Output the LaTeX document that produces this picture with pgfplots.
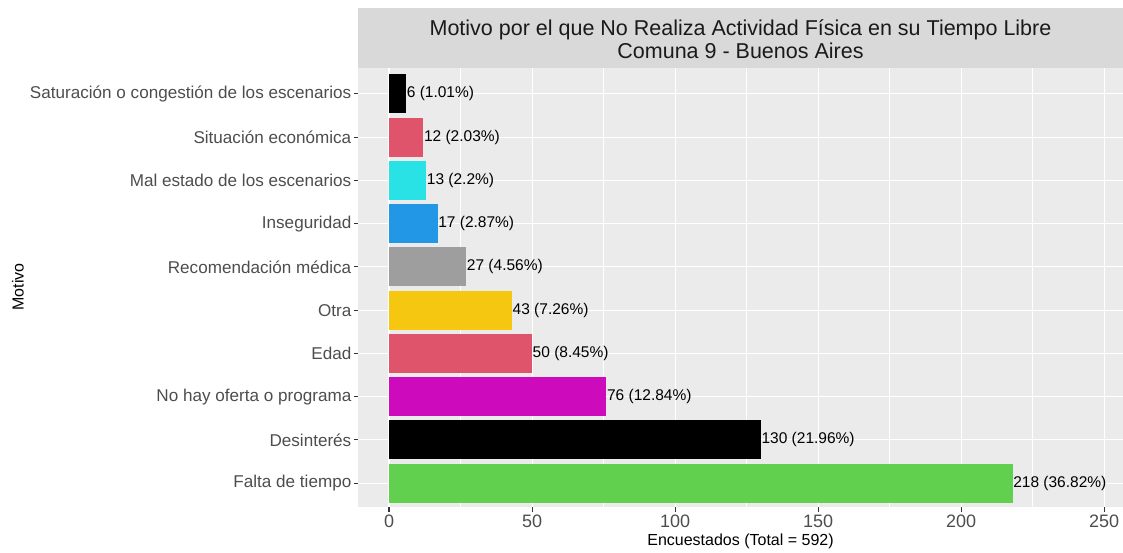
\documentclass[border=0pt]{standalone}
\usepackage{pgfplots}
\pgfplotsset{compat=1.18}
\usepackage{fontspec}
\setmainfont{Liberation Sans}
\definecolor{panelbg}{RGB}{235,235,235}
\definecolor{stripbg}{RGB}{217,217,217}
\definecolor{ticktxt}{RGB}{77,77,77}
\definecolor{tickcol}{RGB}{51,51,51}
\definecolor{titletxt}{RGB}{26,26,26}
\definecolor{cred}{HTML}{DF536B}
\definecolor{ccyan}{HTML}{28E2E5}
\definecolor{cblue}{HTML}{2297E6}
\definecolor{cgrey}{HTML}{9E9E9E}
\definecolor{cyellow}{HTML}{F5C710}
\definecolor{cmagenta}{HTML}{CD0BBC}
\definecolor{cgreen}{HTML}{61D04F}
\begin{document}
\begin{tikzpicture}[x=1pt,y=1pt]
\useasboundingbox (0,0) rectangle (1123,552);
\fill[stripbg] (358,484) rectangle (1123,544);
\node[align=center, text=titletxt, font=\fontsize{21.5}{23}\selectfont, inner sep=0pt] at (740.5,513) {Motivo por el que No Realiza Actividad Física en su Tiempo Libre\\Comuna 9 - Buenos Aires};
\begin{axis}[
  at={(358pt,45pt)}, anchor=south west,
  scale only axis, width=765pt, height=439pt,
  xmin=-10.84, xmax=256.6,
  ymin=0.45, ymax=10.6,
  xbar, bar width=0.9, bar shift=0pt,
  axis background/.style={fill=panelbg},
  axis line style={draw=none},
  xtick={0,50,100,150,200,250},
  minor xtick={25,75,125,175,225},
  ytick={1,...,10},
  yticklabels={Falta de tiempo,Desinterés,No hay oferta o programa,Edad,Otra,Recomendación médica,Inseguridad,Mal estado de los escenarios,Situación económica,Saturación o congestión de los escenarios},
  grid=both,
  major grid style={white, line width=1.07pt},
  minor grid style={white, line width=0.53pt},
  tick align=outside, tick pos=left,
  major tick length=4.5pt, minor tick length=0pt,
  tick style={tickcol, line width=1.07pt},
  /pgf/number format/assume math mode=true,
  yticklabel style={text=ticktxt, font=\fontsize{17.1}{20}\selectfont, inner xsep=2pt},
  xticklabel style={text=ticktxt, font=\fontsize{18}{20}\selectfont, inner ysep=3pt},
  point meta=explicit symbolic,
  nodes near coords,
  every node near coord/.append style={anchor=west, inner xsep=0.5pt, text=black, font=\fontsize{15.5}{17}\selectfont},
  clip=false,
]
\addplot[fill=cgreen, draw=none] coordinates {(218,1) [218 (36.82\%)]};
\addplot[fill=black, draw=none] coordinates {(130,2) [130 (21.96\%)]};
\addplot[fill=cmagenta, draw=none] coordinates {(76,3) [76 (12.84\%)]};
\addplot[fill=cred, draw=none] coordinates {(50,4) [50 (8.45\%)]};
\addplot[fill=cyellow, draw=none] coordinates {(43,5) [43 (7.26\%)]};
\addplot[fill=cgrey, draw=none] coordinates {(27,6) [27 (4.56\%)]};
\addplot[fill=cblue, draw=none] coordinates {(17,7) [17 (2.87\%)]};
\addplot[fill=ccyan, draw=none] coordinates {(13,8) [13 (2.2\%)]};
\addplot[fill=cred, draw=none] coordinates {(12,9) [12 (2.03\%)]};
\addplot[fill=black, draw=none] coordinates {(6,10) [6 (1.01\%)]};
\end{axis}
\node[text=black, font=\fontsize{16}{18}\selectfont] at (740.5,11) {Encuestados (Total = 592)};
\node[text=black, font=\fontsize{16}{18}\selectfont, rotate=90] at (18,265) {Motivo};
\end{tikzpicture}
\end{document}
